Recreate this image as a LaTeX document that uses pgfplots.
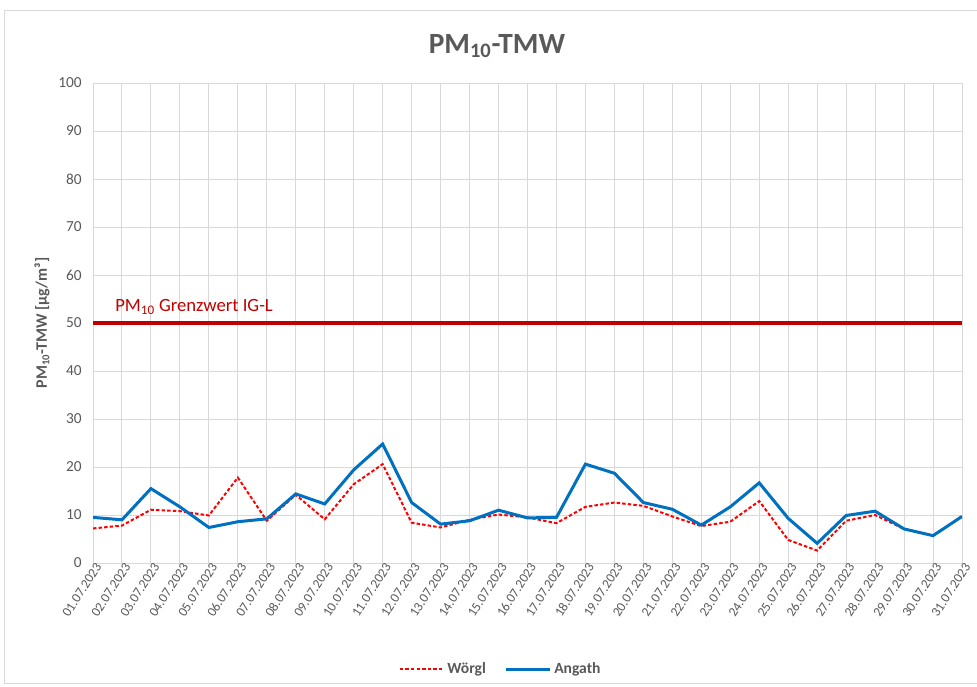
\documentclass[border=0pt]{standalone}
\usepackage{pgfplots}
\pgfplotsset{compat=1.18}
\usepackage{fontspec}
\setmainfont{Carlito}
\definecolor{txt}{HTML}{595959}
\definecolor{gridc}{HTML}{D9D9D9}
\definecolor{blue1}{HTML}{0070C0}
\definecolor{gw}{HTML}{C00000}
\definecolor{wred}{HTML}{FF0000}
\begin{document}
\begin{tikzpicture}[x=0.75pt,y=0.75pt]
\path[use as bounding box] (0,0) rectangle (977,-686);
\draw[gridc, line width=0.75pt] (4.5,-10.5) rectangle (990,-683);
\node[font=\fontsize{22}{26}\selectfont\bfseries, text=txt, anchor=base] at (497,-53) {PM\textsubscript{10}-TMW};
\begin{axis}[
  at={(69.75pt,-422.25pt)}, anchor=south west,
  scale only axis, width=651.75pt, height=360pt,
  xmin=1, xmax=31, ymin=0, ymax=100,
  xtick={1,...,31},
  xticklabels={01.07.2023,02.07.2023,03.07.2023,04.07.2023,05.07.2023,06.07.2023,07.07.2023,08.07.2023,09.07.2023,10.07.2023,11.07.2023,12.07.2023,13.07.2023,14.07.2023,15.07.2023,16.07.2023,17.07.2023,18.07.2023,19.07.2023,20.07.2023,21.07.2023,22.07.2023,23.07.2023,24.07.2023,25.07.2023,26.07.2023,27.07.2023,28.07.2023,29.07.2023,30.07.2023,31.07.2023},
  ytick={0,10,...,100},
  grid=major, major grid style={draw=gridc, line width=0.75pt},
  axis line style={draw=gridc, line width=0.75pt},
  tick style={draw=none},
  /pgf/number format/assume math mode=true,
  x tick label style={rotate=57, anchor=east, font=\fontsize{10}{12}\selectfont, text=txt, inner sep=1pt, xshift=2.5pt, yshift=-4pt},
  y tick label style={font=\fontsize{11.5}{13}\selectfont, text=txt, xshift=-5pt},
  ylabel={\textbf{PM\textsubscript{10}-TMW [µg/m³]}},
  ylabel style={at={(axis description cs:-0.0587,0.5)}, anchor=center, font=\fontsize{12}{14}\selectfont, text=txt},
  legend columns=2,
  legend style={at={(axis description cs:0.4695,-0.221)}, anchor=center, draw=none, fill=none,
    font=\fontsize{11.7}{13}\selectfont\bfseries, text=txt, /tikz/every even column/.append style={column sep=12pt},
    nodes={inner sep=2pt}},
  legend image code/.code={\draw[#1] (0pt,0pt) -- (33pt,0pt);},
]
\addplot[gw, line width=2.6pt, forget plot] coordinates {(1,50) (31,50)};
\addplot[wred, line width=1.5pt, dash pattern=on 2.6pt off 1.6pt] coordinates {
(1,7.2)(2,7.8)(3,11.1)(4,10.8)(5,9.9)(6,17.8)(7,8.8)(8,14.2)(9,9.1)(10,16.4)(11,20.6)(12,8.4)(13,7.4)(14,9.0)(15,10.1)(16,9.5)(17,8.3)(18,11.7)(19,12.6)(20,11.9)(21,9.7)(22,7.7)(23,8.6)(24,12.9)(25,4.8)(26,2.6)(27,8.8)(28,10.0)(29,7.1)(30,5.7)(31,9.7)};
\addlegendentry{Wörgl}
\addplot[blue1, line width=2.25pt] coordinates {
(1,9.5)(2,9.0)(3,15.5)(4,11.7)(5,7.4)(6,8.6)(7,9.2)(8,14.4)(9,12.3)(10,19.4)(11,24.8)(12,12.6)(13,8.1)(14,8.8)(15,11.0)(16,9.4)(17,9.5)(18,20.6)(19,18.7)(20,12.6)(21,11.2)(22,7.9)(23,11.7)(24,16.7)(25,9.3)(26,4.1)(27,9.9)(28,10.8)(29,7.1)(30,5.7)(31,9.7)};
\addlegendentry{Angath}
\node[anchor=base west, text=gw, font=\fontsize{14}{16}\selectfont, inner sep=0pt] at (axis cs:1.76,52.4) {PM\textsubscript{10} Grenzwert IG-L};
\end{axis}
\end{tikzpicture}
\end{document}
